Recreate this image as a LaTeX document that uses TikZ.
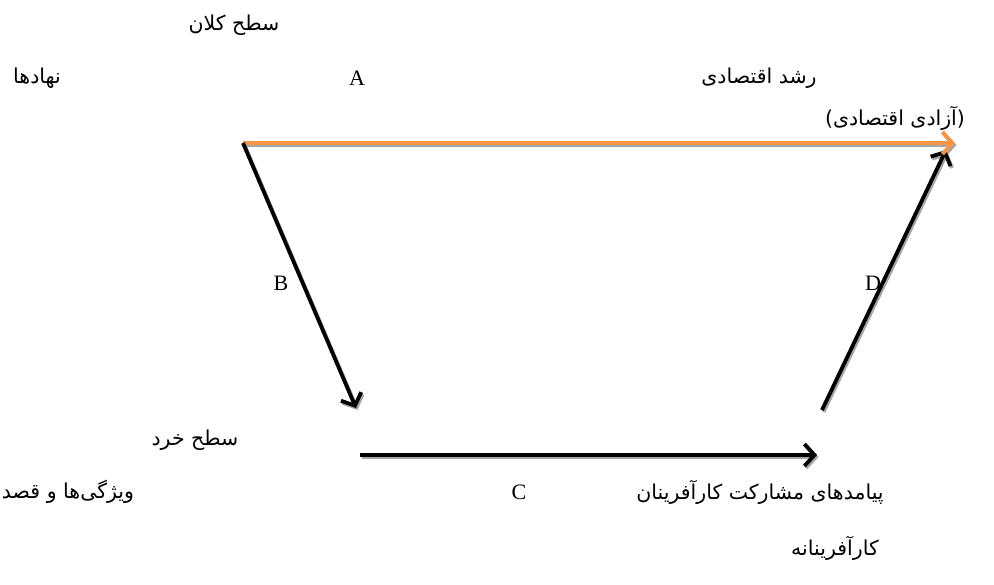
\documentclass[tikz,border=0pt]{standalone}
\usepackage{fontspec}
\setmainfont{Liberation Serif}
\newfontfamily\fa[Script=Arabic]{DejaVu Sans}
\TeXXeTstate=1
\usetikzlibrary{arrows.meta}
\definecolor{orng}{HTML}{F79646}
\definecolor{shd}{HTML}{A6A6A6}
\begin{document}
\begin{tikzpicture}[x=1pt,y=-1pt,
  fa/.style={font=\fa\fontsize{20.5}{24}\selectfont, inner sep=0pt},
  lat/.style={font=\fontsize{22}{26}\selectfont, inner sep=0pt},
  arr/.style={line width=3.8pt, -{Straight Barb[length=10pt,width=22pt]}},
  blk/.style={arr, black},
  org/.style={arr, orng},
  shadow/.style={arr, shd}
]
\useasboundingbox[fill=white] (0,0) rectangle (994,585);

% points
\coordinate (tl) at (243,143);
\coordinate (tr) at (955,143);
\coordinate (bl) at (356,408);
\coordinate (cs) at (360,455);
\coordinate (ce) at (817,455);
\coordinate (ds) at (822,410);
\coordinate (de) at (946,150);

% shadows
\draw[shadow] ([shift={(1.5,2)}]tl) -- ([shift={(1.5,2)}]tr);
\draw[shadow] ([shift={(1.5,2)}]tl) -- ([shift={(1.5,2)}]bl);
\draw[shadow] ([shift={(1.5,2)}]cs) -- ([shift={(1.5,2)}]ce);
\draw[shadow] ([shift={(1.5,2)}]ds) -- ([shift={(1.5,2)}]de);

% arrows
\draw[blk] (ds) -- (de);
\draw[org] (tl) -- (tr);
\draw[blk] (tl) -- (bl);
\draw[blk] (cs) -- (ce);

% texts
\node[fa] (macro) at (234,25) {\beginR سطح کلان\endR};
\node[fa] (inst) at (37,78) {\beginR نهادها\endR};
\node[lat] (A) at (357,78) {A};
\node[fa] (growth) at (759,78) {\beginR رشد اقتصادی\endR};
\node[fa] (freedom) at (895,118) {)\beginR آزادی اقتصادی\endR(};
\node[lat] (B) at (281,283) {B};
\node[lat] (D) at (873,283) {D};
\node[fa] (micro) at (195,440) {\beginR سطح خرد\endR};
\node[fa] (traits) at (68,492) {\beginR ویژگی^^^^200cها و قصد\endR};
\node[lat] (C) at (519,492) {C};
\node[fa] (cons) at (760,492) {\beginR پیامدهای مشارکت کارآفرینان\endR};
\node[fa] (entr) at (835,548) {\beginR کارآفرینانه\endR};
\end{tikzpicture}
\end{document}
